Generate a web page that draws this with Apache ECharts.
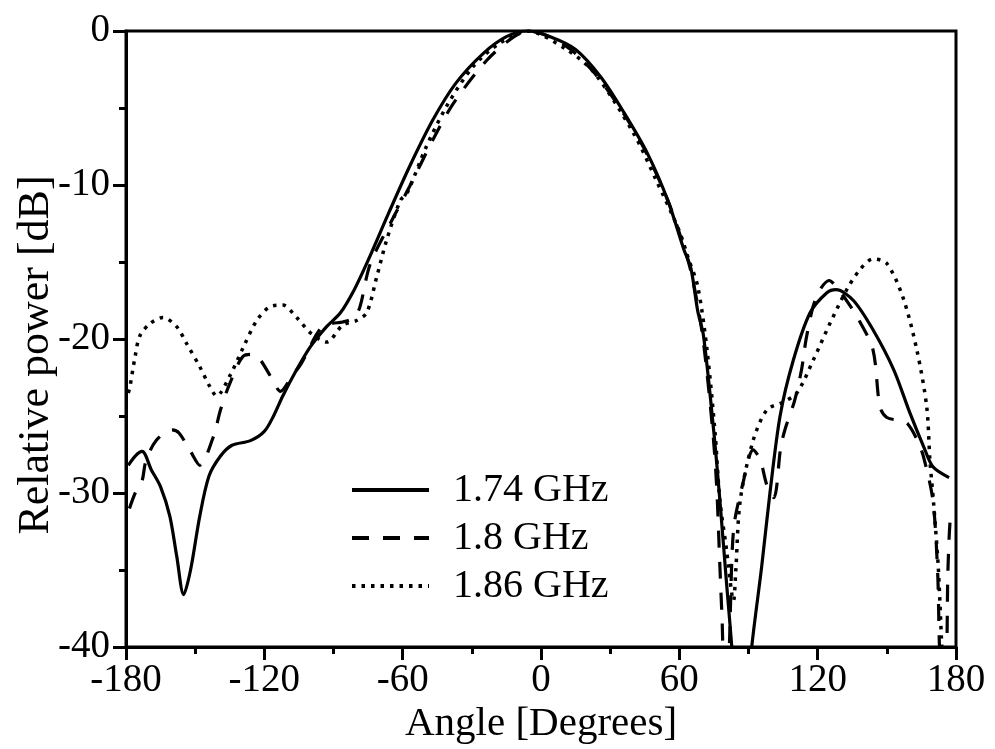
<!DOCTYPE html>
<html>
<head>
<meta charset="utf-8">
<script src="https://cdn.jsdelivr.net/npm/echarts@6/dist/echarts.min.js"></script>
<style>
html,body{margin:0;padding:0;background:#fff;}
#chart{width:995px;height:749px;}
</style>
</head>
<body>
<div id="chart"></div>
<script>
// ---- data ----
const seriesNames = ['1.74 GHz', '1.8 GHz', '1.86 GHz'];

const angles174 = [-179,-176,-173,-169,-165,-161,-158,-155,-152,-148,-144,-139,-134,-126,-120,-116,-112,-106,-100,-93,-87,-81,-75,-66,-57,-47,-37,-25,-15,-6,4,15,26,36,46,55,62,65,68,70.5,75,77.6,80.5,82.7,84,90,91.4,95.7,99.3,103.7,109.4,116.7,124,128,135.5,144,153,160,166,170,177];
const power174  = [-28.2,-27.6,-27.3,-28.5,-29.6,-31.5,-34.1,-36.6,-35.0,-31.5,-28.9,-27.6,-26.9,-26.6,-26.0,-25.0,-23.7,-22.0,-20.5,-19.2,-18.3,-16.8,-14.9,-11.8,-8.8,-5.8,-3.4,-1.45,-0.37,0,-0.37,-1.2,-3.0,-5.3,-7.9,-11.0,-14.2,-15.4,-18.2,-19.8,-26.1,-30.5,-35.9,-39.9,-43,-43,-40,-34.8,-30.0,-25.0,-21.4,-18.3,-17.0,-16.8,-17.5,-19.4,-22.0,-24.8,-27.0,-28.3,-29.0];

const angles180 = [-178.5,-176,-173,-171.5,-167,-160,-157,-152,-148,-142,-139,-135,-129,-125,-122,-117,-113,-108,-104,-96,-91,-86,-81,-78.5,-74,-64,-57,-47,-38,-23.5,-12,-5,11,23,36,46,55,60,65,70,74.5,76.2,77.6,78.5,79.5,81,83.5,87.7,92,95,98,101,104,106,110,113,115,118,121,125,128,133,138,144,147,150,156,159,163,166,170,172,173.5,175.5,176.5,177.5,178.5];
const power180  = [-31.0,-30.0,-29.2,-28.0,-26.6,-25.9,-26.1,-27.3,-28.2,-26.3,-24.6,-22.9,-21.1,-21.0,-21.3,-22.5,-23.4,-22.4,-21.6,-19.4,-19.0,-18.9,-18.6,-17.9,-15.1,-12.1,-10.1,-7.1,-4.7,-1.9,-0.4,0,-1.0,-2.7,-5.4,-8.0,-11.0,-13.1,-15.6,-19.7,-26,-29.6,-34.8,-38,-41,-41,-32.4,-29.3,-27.2,-27.8,-29.5,-30.3,-27,-25.8,-24,-22,-20,-17.9,-16.8,-16.2,-16.6,-17.6,-18.8,-20.7,-24.4,-25.1,-25.3,-25.5,-26.5,-27.7,-30.5,-35,-41,-41,-35,-31.7,-31.3];

const angles186 = [-179,-178.3,-176,-174,-169.6,-164,-158,-153.7,-148,-143.6,-140.7,-135,-129,-123.3,-117.5,-112,-106,-100,-93,-86,-80,-75.6,-71.3,-67,-61,-58,-50,-41,-29.4,-18,-6,11,23,40,50,60,64,68,72,75.5,77.6,80.5,82.7,83.5,84.5,86.4,92,98,105,111,118,125.3,132.6,138.3,144,150,157,163,167.3,168.7,170.2,172.3,173.7,174.5];
const power186  = [-23.5,-23.1,-21.1,-19.8,-19.0,-18.6,-19.2,-20.3,-21.8,-23.1,-23.7,-22.4,-20.5,-18.8,-17.9,-17.8,-18.6,-19.6,-20.2,-19.1,-18.8,-18.3,-16.0,-13.6,-11.0,-10.5,-7.6,-4.9,-2.3,-0.8,0,-1.2,-2.7,-6.6,-9.7,-13.0,-14.8,-16.6,-20.7,-26.1,-30.5,-33.7,-36.5,-37,-35,-30.5,-26.6,-24.6,-24.1,-23.5,-21.4,-19.0,-16.8,-15.5,-14.8,-15.1,-17.3,-20.7,-24.4,-27.9,-30.5,-34.8,-39.5,-42];

const xTicks = {min: -180, max: 180, step: 60};
const yTicks = {min: -40, max: 0, step: 10};

const xTitle = 'Angle [Degrees]';
const yTitle = 'Relative power [dB]';

// ---- build ----
function zip(a, b) { return a.map((v, i) => [v, b[i]]); }
const FONT = '"Liberation Serif", "Times New Roman", serif';

const chart = echarts.init(document.getElementById('chart'), null, {renderer: 'canvas'});

const axisCommon = {
  axisLine: {show: true, onZero: false, lineStyle: {color: '#000', width: 3}},
  axisTick: {show: true, inside: false, length: 13, lineStyle: {color: '#000', width: 3}},
  minorTick: {show: true, splitNumber: 2, length: 7, lineStyle: {color: '#000', width: 3}},
  splitLine: {show: false},
  minorSplitLine: {show: false},
  axisLabel: {color: '#000', fontFamily: FONT, fontSize: 39}
};

const option = {
  backgroundColor: '#fff',
  animation: false,
  color: ['#000', '#000', '#000'],
  grid: {left: 126, right: 39, top: 31, bottom: 102, show: true, borderColor: '#000', borderWidth: 3, containLabel: false},
  xAxis: Object.assign({}, axisCommon, {
    type: 'value', min: xTicks.min, max: xTicks.max, interval: xTicks.step,
    axisLabel: Object.assign({}, axisCommon.axisLabel, {margin: 14})
  }),
  yAxis: Object.assign({}, axisCommon, {
    type: 'value', min: yTicks.min, max: yTicks.max, interval: yTicks.step,
    axisLabel: Object.assign({}, axisCommon.axisLabel, {margin: 16})
  }),
  legend: {
    show: true, orient: 'vertical', left: 345, top: 465,
    itemWidth: 77, itemHeight: 14, itemGap: 8,
    data: seriesNames,
    itemStyle: {opacity: 0},
    lineStyle: {width: 4},
    textStyle: {color: '#000', fontFamily: FONT, fontSize: 40, padding: [0, 0, 0, 19]}
  },
  graphic: [
    {type: 'text', x: 541, y: 724, style: {text: xTitle, fontFamily: FONT, fontSize: 41, fill: '#000', textAlign: 'center', textVerticalAlign: 'middle'}},
    {type: 'text', x: 36, y: 355, rotation: Math.PI / 2, style: {text: yTitle, fontFamily: FONT, fontSize: 44, fill: '#000', textAlign: 'center', textVerticalAlign: 'middle'}}
  ],
  series: [
    {name: seriesNames[0], type: 'line', symbol: 'none', smooth: 0.3, clip: true,
     itemStyle: {color: '#000'},
     lineStyle: {color: '#000', width: 3.2, type: 'solid'}, data: zip(angles174, power174)},
    {name: seriesNames[1], type: 'line', symbol: 'none', smooth: 0.3, clip: true,
     itemStyle: {color: '#000'},
     lineStyle: {color: '#000', width: 3.2, type: [17, 14]}, data: zip(angles180, power180)},
    {name: seriesNames[2], type: 'line', symbol: 'none', smooth: 0.3, clip: true,
     itemStyle: {color: '#000'},
     lineStyle: {color: '#000', width: 3.5, type: [3.5, 6]}, data: zip(angles186, power186)}
  ]
};
chart.setOption(option);
</script>
</body>
</html>
